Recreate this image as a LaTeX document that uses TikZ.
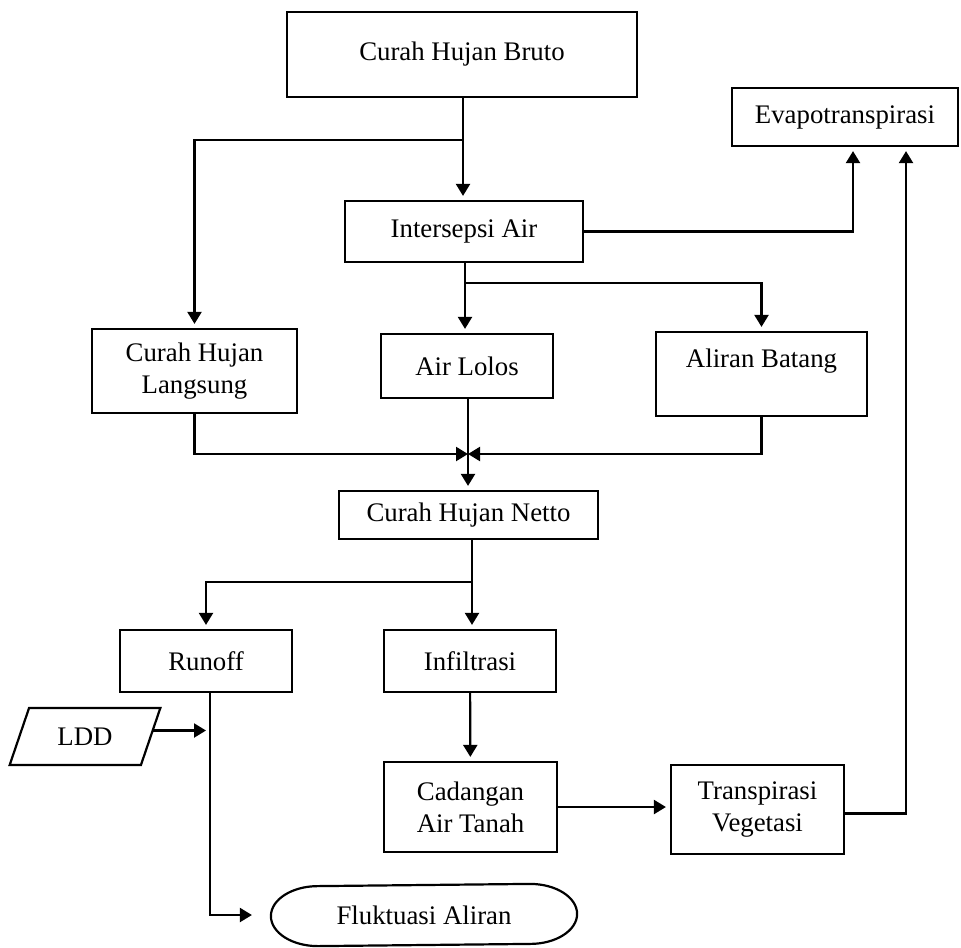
\documentclass[tikz,border=0pt]{standalone}
\usepackage{fontspec}
\setmainfont{Liberation Serif}
\usetikzlibrary{arrows.meta,shapes.geometric}
\newcommand{\boxfont}{\fontsize{13.4pt}{16pt}\selectfont}
\begin{document}
\begin{tikzpicture}[x=0.5pt,y=-0.5pt,line width=1.1pt,
		box/.style={draw,inner sep=0pt,align=center,font=\boxfont},
		arr/.style={-{Triangle[length=6pt,width=7pt]},shorten >=2pt}]
		\useasboundingbox (0,0) rectangle (961,947);
		
		\node[box,minimum width=175pt,minimum height=42.5pt] (bruto) at (462,54.5) {Curah Hujan Bruto};
		\node[box,minimum width=119pt,minimum height=30.5pt] (inter) at (464,231.5) {Intersepsi Air};
		\node[box,minimum width=113pt,minimum height=29pt] (evapo) at (845,117) {Evapotranspirasi};
		
		\node[box,minimum width=102.5pt,minimum height=42pt] (lang) at (194.5,371) {Curah Hujan\\Langsung};
		\node[box,minimum width=86pt,minimum height=32pt] (lolos) at (467,366) {Air Lolos};
		\node[box,minimum width=105.5pt,minimum height=42pt] (batang) at (761.5,374) {Aliran Batang\\~};
		
		\node[box,minimum width=129.5pt,minimum height=24pt] (netto) at (468.5,515) {Curah Hujan Netto};
		\node[box,minimum width=86pt,minimum height=31pt] (runoff) at (206,661) {Runoff};
		\node[box,minimum width=86pt,minimum height=31pt] (infil) at (470,661) {Infiltrasi};
		\node[box,minimum width=86.5pt,minimum height=45pt] (cadangan) at (470.5,807) {Cadangan\\Air Tanah};
		\node[box,minimum width=86.5pt,minimum height=44.5pt] (transp) at (757.5,809.5) {Transpirasi\\Vegetasi};
		
		\node[box,trapezium,trapezium left angle=61.5,trapezium right angle=118.5,trapezium stretches=true,
			minimum width=75.5pt,minimum height=28.5pt] (ldd) at (85,736.5) {LDD};
		\node[inner sep=0pt,minimum width=152pt,minimum height=30pt,font=\boxfont] (flu) at (424,915) {Fluktuasi Aliran};
		\draw ([xshift=23.5pt]flu.south west)
			arc[start angle=270,end angle=90,x radius=23.5pt,y radius=15pt]
			-- ([xshift=-23.5pt]flu.north east)
			arc[start angle=90,end angle=-90,x radius=23.5pt,y radius=15pt] -- cycle;
		
		\coordinate (j1) at (463,140);
		\coordinate (j2) at (465,283);
		\coordinate (j3) at (468,454);
		\coordinate (j4) at (472,582);
		\coordinate (rbot) at ([xshift=2pt]runoff.south);
		\coordinate (lddout) at ([yshift=3pt]ldd.east);
		
		\draw[arr] (j1 |- bruto.south) -- (j1 |- inter.north);
		\draw[arr] (j1) -| (lang.north);
		\draw[arr] (j2 |- inter.south) -- (j2 |- lolos.north);
		\draw[arr] (j2) -| (batang.north);
		\draw[arr] (inter.east) -| ([xshift=4pt]evapo.south);
		
		\draw (j3 |- lolos.south) -- (j3);
		\draw[arr,shorten >=0pt] (lang.south) |- (j3);
		\draw[arr,shorten >=0pt] (batang.south) |- (j3);
		\draw[arr] (j3) -- (j3 |- netto.north);
		
		\draw[arr] (j4 |- netto.south) -- (j4 |- infil.north);
		\draw[arr] (j4) -| (runoff.north);
		\draw[arr] (infil) -- (cadangan);
		\draw[arr] (cadangan.east) -- (cadangan.east -| transp.west);
		\draw[arr] ([yshift=-2pt]transp.east) -| ([xshift=30.5pt]evapo.south);
		
		\draw[arr] (lddout) -- (lddout -| rbot);
		\draw[arr,shorten >=9.5pt] (rbot) |- (flu.west);
		
		\end{tikzpicture}
\end{document}
